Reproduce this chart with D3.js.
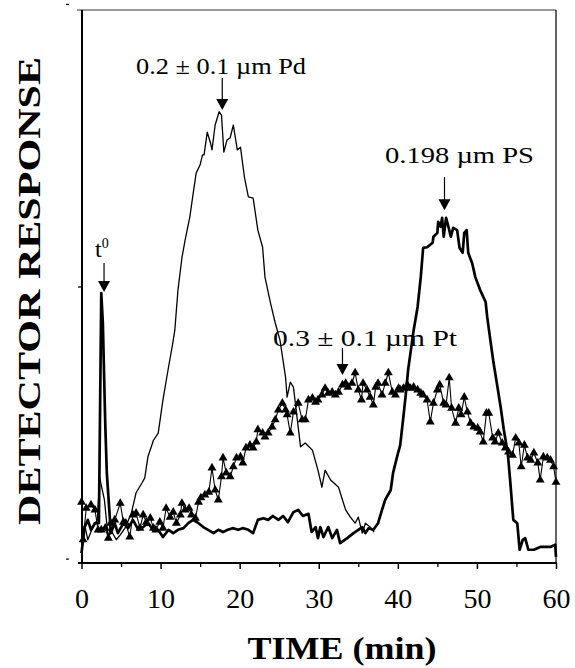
<!DOCTYPE html>
<html><head><meta charset="utf-8">
<script src="https://cdn.jsdelivr.net/npm/d3@7"></script>
<style>body{margin:0;background:#fff}svg{display:block}</style>
</head><body>
<svg id="c" width="575" height="668"></svg>
<script>
// ---------- data ----------
const xTicks = [0, 10, 20, 30, 40, 50, 60];
const xMinorTicks = [5, 15, 25, 35, 45, 55];
const yTicks = [50];

// 0.2 ± 0.1 µm Pd (thin line)
const pdTime = [0.1,0.4,0.8,1.3,2.0,2.3,2.9,3.4,3.7,4.4,4.9,5.5,6.3,6.9,7.7,8.0,8.4,9.1,9.7,10.3,11.0,11.5,11.8,12.2,12.7,13.1,13.7,14.1,14.5,15.0,15.3,15.5,15.9,16.3,16.5,16.9,17.4,17.7,18.0,18.4,18.8,19.2,19.7,20.1,20.6,21.1,21.7,22.3,22.9,23.2,23.9,24.5,25.1,25.8,26.0,26.4,26.8,27.7,28.3,29.2,29.9,30.4,30.8,31.5,32.5,33.4,34.0,34.6,35.0,35.5,35.9,36.5,37.0];
const pdResponse = [5.1,6.9,4.2,6.0,7.8,15.4,11.4,4.2,6.0,4.2,5.1,6.3,9.0,12.7,14.6,15.4,19.2,22.2,23.5,29.5,35.4,39.4,42.1,49.4,55.2,58.4,62.6,66.6,70.5,72.0,73.8,73.8,77.9,76.0,74.7,79.2,81.6,81.0,74.3,76.5,76.9,79.2,74.7,75.2,69.8,66.2,66.0,60.2,57.1,51.7,47.0,43.4,40.3,33.6,30.0,32.7,31.8,21.0,21.7,20.4,16.8,13.7,16.8,15.0,13.7,9.6,8.3,7.2,8.3,5.4,7.2,6.5,5.6];

// 0.198 µm PS (thick line)
const psTime = [0.0,0.4,0.8,1.2,1.7,2.2,2.5,2.7,3.0,3.2,3.6,3.7,4.2,4.6,5.3,5.9,6.5,7.2,7.8,8.4,9.1,9.7,10.3,11.0,11.6,12.2,12.9,13.5,14.1,14.8,15.4,16.0,16.7,17.3,17.9,18.5,19.2,19.8,20.4,21.1,21.7,22.3,23.0,23.6,24.2,24.9,25.5,26.1,26.8,27.4,28.0,28.7,29.1,29.6,29.9,30.2,30.6,31.2,31.7,32.3,32.7,33.6,34.4,35.0,35.5,35.9,36.3,36.9,37.5,38.0,38.4,39.1,39.4,39.9,40.3,40.7,41.0,41.3,42.0,42.5,42.9,43.2,43.7,44.4,44.5,45.0,45.1,45.4,45.6,45.8,46.1,46.4,46.7,47.0,47.5,47.8,48.2,48.4,48.7,48.9,49.4,49.8,50.4,51.1,51.3,51.7,52.1,52.6,53.0,53.4,53.9,54.2,54.6,55.1,55.4,55.8,56.1,56.5,57.2,58.0,59.3,59.9,60.0];
const psResponse = [1.8,6.5,7.8,6.0,7.2,7.2,48.8,43.4,25.3,16.3,7.8,5.4,7.2,5.4,7.2,6.3,7.8,6.0,6.5,7.2,6.0,6.0,4.7,6.0,5.4,6.0,6.3,7.2,7.8,7.2,6.5,6.0,5.4,6.0,5.6,6.0,6.3,6.0,6.3,6.0,5.4,7.8,8.1,7.8,8.5,7.8,8.5,7.4,9.2,9.6,8.5,8.9,5.6,6.5,4.5,6.5,4.7,6.5,4.5,6.0,3.6,4.5,5.4,6.0,6.5,5.4,6.3,6.0,7.2,9.6,11.4,13.2,16.3,19.2,21.3,26.4,30.4,34.9,42.1,46.3,51.7,57.0,57.1,57.9,59.0,59.7,61.7,60.8,62.4,59.0,62.4,60.8,59.0,60.6,60.2,57.0,56.1,59.7,60.2,56.1,54.2,51.7,49.4,47.2,44.5,40.3,36.2,31.8,28.2,24.1,19.9,15.0,7.8,7.2,2.4,4.2,4.5,2.4,2.4,2.9,2.9,3.3,1.1];

// 0.3 ± 0.1 µm Pt (triangles)
const ptTime = [0.0,0.2,0.6,1.2,1.7,2.1,2.5,3.0,3.4,3.7,4.2,4.9,5.3,5.6,6.1,6.5,6.9,7.4,7.8,8.2,8.7,9.1,9.4,9.9,10.3,10.7,11.2,11.6,12.0,12.5,12.7,13.1,13.6,13.9,14.4,14.8,15.1,15.6,16.1,16.5,16.9,17.3,17.7,17.9,18.3,18.8,19.2,19.6,20.1,20.4,20.8,21.3,21.7,22.1,22.3,22.9,23.2,23.6,24.1,24.5,24.9,25.4,25.8,26.0,26.4,26.8,27.4,27.9,28.3,28.7,29.2,29.6,29.9,30.4,30.8,31.2,31.7,32.1,32.5,33.0,33.4,33.7,34.2,34.6,35.0,35.4,35.6,36.1,36.5,36.9,37.2,37.5,38.0,38.4,38.8,39.3,39.7,40.1,40.3,40.7,41.2,41.6,42.0,42.5,42.9,43.2,43.7,44.1,44.5,45.0,45.3,45.8,46.1,46.5,46.8,47.3,47.7,48.0,48.4,48.8,49.2,49.6,50.1,50.4,50.8,51.2,51.5,52.0,52.3,52.7,53.2,53.6,54.0,54.5,54.9,55.3,55.6,56.0,56.4,56.8,57.2,57.7,58.0,58.4,58.9,59.3,59.7,60.0];
const ptResponse = [11.0,4.2,9.9,10.5,9.6,6.0,6.0,6.3,4.5,7.2,7.8,10.8,7.4,7.2,4.7,8.7,9.0,6.3,8.7,7.4,8.1,6.3,6.0,7.4,6.3,9.9,8.3,9.2,7.2,8.7,10.8,9.6,9.9,8.7,8.1,11.0,11.8,12.3,12.8,17.2,13.2,11.4,15.6,19.0,16.3,15.6,17.4,19.0,19.2,18.1,20.8,21.3,20.8,21.9,24.1,23.5,22.8,23.5,24.6,25.9,27.7,28.9,27.7,26.8,23.5,27.3,28.9,25.9,25.9,29.5,29.8,29.1,29.5,30.4,31.6,30.7,30.9,30.4,30.9,32.2,32.5,31.8,32.5,34.4,31.3,29.5,32.5,31.3,30.0,28.6,31.8,32.5,30.4,32.5,34.4,30.9,30.4,31.6,31.3,31.6,32.2,31.6,31.8,31.3,30.7,30.4,29.5,25.5,28.9,31.3,32.2,28.9,28.6,33.5,28.0,25.3,28.0,26.8,30.0,27.3,25.3,24.6,24.4,23.7,21.9,27.1,27.1,22.6,21.9,23.5,21.7,20.8,20.1,19.5,22.6,21.7,17.4,21.3,19.0,18.6,19.9,18.1,15.0,19.2,19.0,18.6,17.4,14.6];

// annotations: arrow tip (time, response) and label text
const annotText = ["0.2 \u00b1 0.1 \u00b5m Pd", "0.198 \u00b5m PS", "0.3 \u00b1 0.1 \u00b5m Pt", "t"];
const annotTime = [17.8, 45.9, 33.0, 2.85];
const annotResponse = [81.9, 63.8, 34.0, 49.0];

// ---------- drawing ----------
const svg = d3.select("#c");
const serif = "'Liberation Serif','Times New Roman',serif";
const x = d3.scaleLinear().domain([0, 60]).range([81.5, 556]);
const y = d3.scaleLinear().domain([0, 100]).range([563, 10]);

// frame
svg.append("line").attr("x1", 77).attr("x2", 556).attr("y1", 10).attr("y2", 10)
  .attr("stroke", "#333").attr("stroke-width", 1);
svg.append("line").attr("x1", 556).attr("x2", 556).attr("y1", 10).attr("y2", 563)
  .attr("stroke", "#111").attr("stroke-width", 1.3);

// x axis
const gx = svg.append("g").attr("transform", "translate(0,563)")
  .call(d3.axisBottom(x).tickValues(xTicks).tickSize(6).tickPadding(19).tickFormat(d3.format("d")));
gx.select(".domain").remove();
gx.selectAll(".tick line").attr("stroke", "#000").attr("stroke-width", 1.5);
gx.selectAll(".tick text").attr("font-family", serif).attr("font-size", 28).attr("fill", "#000");
const gxm = svg.append("g").attr("transform", "translate(0,563)")
  .call(d3.axisBottom(x).tickValues(xMinorTicks).tickSize(4).tickFormat(""));
gxm.select(".domain").remove();
gxm.selectAll(".tick line").attr("stroke", "#000").attr("stroke-width", 1.3);
svg.append("line").attr("x1", 78).attr("x2", 557).attr("y1", 563).attr("y2", 563)
  .attr("stroke", "#000").attr("stroke-width", 2);

// y axis
const gy = svg.append("g").attr("transform", "translate(82,0)")
  .call(d3.axisLeft(y).tickValues(yTicks).tickSize(4).tickFormat(""));
gy.select(".domain").remove();
gy.selectAll(".tick line").attr("stroke", "#000").attr("stroke-width", 1.3);
svg.append("line").attr("x1", 82).attr("x2", 82).attr("y1", 10).attr("y2", 564)
  .attr("stroke", "#000").attr("stroke-width", 2);
[y(0.7), y(101)].forEach(v => svg.append("line").attr("x1", 66).attr("x2", 69)
  .attr("y1", v).attr("y2", v).attr("stroke", "#000").attr("stroke-width", 1.2));

// series
const line = d3.line().x(d => x(d[0])).y(d => y(d[1]));
const pd = d3.zip(pdTime, pdResponse);
const ps = d3.zip(psTime, psResponse);
const pt = d3.zip(ptTime, ptResponse);

svg.append("path").datum(pt).attr("d", line).attr("fill", "none")
  .attr("stroke", "#000").attr("stroke-width", 1.1).attr("stroke-linejoin", "round");
svg.append("g").selectAll("path").data(pt).join("path")
  .attr("d", d3.symbol(d3.symbolTriangle, 34))
  .attr("transform", d => `translate(${x(d[0])},${y(d[1])})`)
  .attr("fill", "#000");

svg.append("path").datum(pd).attr("d", line).attr("fill", "none")
  .attr("stroke", "#000").attr("stroke-width", 1.3).attr("stroke-linejoin", "round");
svg.append("path").datum(ps).attr("d", line).attr("fill", "none")
  .attr("stroke", "#000").attr("stroke-width", 2.7).attr("stroke-linejoin", "round");

// arrows
const arrowLen = [32, 33, 27, 29];
annotTime.forEach((t, i) => {
  const ax = x(t), tip = y(annotResponse[i]);
  svg.append("line").attr("x1", ax).attr("x2", ax).attr("y1", tip - arrowLen[i]).attr("y2", tip - 9)
    .attr("stroke", "#000").attr("stroke-width", 1.2);
  svg.append("path").attr("d", `M${ax - 6},${tip - 11}L${ax + 6},${tip - 11}L${ax},${tip}Z`).attr("fill", "#000");
});

// labels
const labelPos = [[136, 74, 170], [385, 163, 149], [273, 346, 184]];
labelPos.forEach((p, i) => {
  svg.append("text").attr("x", p[0]).attr("y", p[1]).attr("font-family", serif)
    .attr("font-size", 24).attr("textLength", p[2]).attr("lengthAdjust", "spacingAndGlyphs")
    .attr("fill", "#000").text(annotText[i]);
});
const t0 = svg.append("text").attr("x", 95).attr("y", 257).attr("font-family", serif)
  .attr("font-size", 24).attr("fill", "#000").text(annotText[3]);
t0.append("tspan").attr("dy", -9).attr("font-size", 14).text("0");

// axis titles
svg.append("text").attr("x", 342).attr("y", 659).attr("text-anchor", "middle")
  .attr("font-family", serif).attr("font-weight", "bold").attr("font-size", 31)
  .attr("textLength", 189).attr("lengthAdjust", "spacingAndGlyphs").attr("fill", "#000").text("TIME (min)");
svg.append("text").attr("transform", "translate(40,291) rotate(-90)").attr("text-anchor", "middle")
  .attr("font-family", serif).attr("font-weight", "bold").attr("font-size", 32)
  .attr("textLength", 468).attr("lengthAdjust", "spacingAndGlyphs").attr("fill", "#000").text("DETECTOR RESPONSE");
</script>
</body></html>
